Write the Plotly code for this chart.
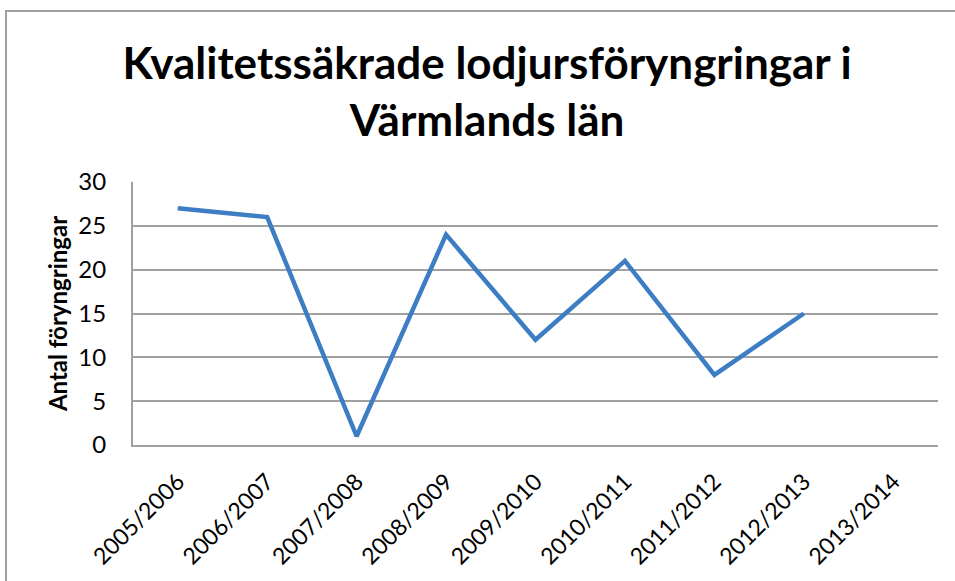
import plotly.graph_objects as go

categories = ["2005/2006", "2006/2007", "2007/2008", "2008/2009", "2009/2010",
              "2010/2011", "2011/2012", "2012/2013", "2013/2014"]
values = [27, 26, 1, 24, 12, 21, 8, 15, None]
y_ticks = [0, 5, 10, 15, 20, 25, 30]

FONT = "Lato"

fig = go.Figure()
fig.add_trace(go.Scatter(
    x=categories, y=values, mode="lines",
    line=dict(color="#3C7DC4", width=4.5),
    connectgaps=False, showlegend=False,
))

fig.update_layout(
    width=955, height=581,
    margin=dict(l=133, r=17, t=182, b=136),
    paper_bgcolor="white", plot_bgcolor="white",
    title=dict(
        text="<b>Kvalitetssäkrade lodjursföryngringar i<br>Värmlands län</b>",
        x=0.51, xanchor="center", y=1 - 79 / 581, yanchor="top",
        yref="container",
        font=dict(family=FONT, size=44, color="black"),
    ),
    xaxis=dict(
        type="category", range=[-0.5, 8.5],
        showgrid=False, showline=True, linecolor="#A0A0A0", linewidth=2,
        ticks="", tickangle=-45, ticklabelstandoff=12,
        tickfont=dict(family=FONT, size=23, color="black"),
    ),
    yaxis=dict(
        range=[0, 30], tickvals=y_ticks,
        showgrid=True, gridcolor="#A0A0A0", gridwidth=2,
        showline=True, linecolor="#A0A0A0", linewidth=2,
        zeroline=False, ticks="", ticklabelstandoff=20,
        tickfont=dict(family=FONT, size=24, color="black"),
        title=dict(text="<b>Antal föryngringar</b>", standoff=4,
                   font=dict(family=FONT, size=24, color="black")),
    ),
    shapes=[dict(type="rect", xref="paper", yref="paper",
                 x0=(6 - 133) / 805, x1=1.2, y0=-1, y1=(445 - 11) / 263,
                 line=dict(color="#A0A0A0", width=2), layer="below")],
)

fig.write_html("out.html", config={"displayModeBar": False},
               post_script="document.body.style.margin='0';")
